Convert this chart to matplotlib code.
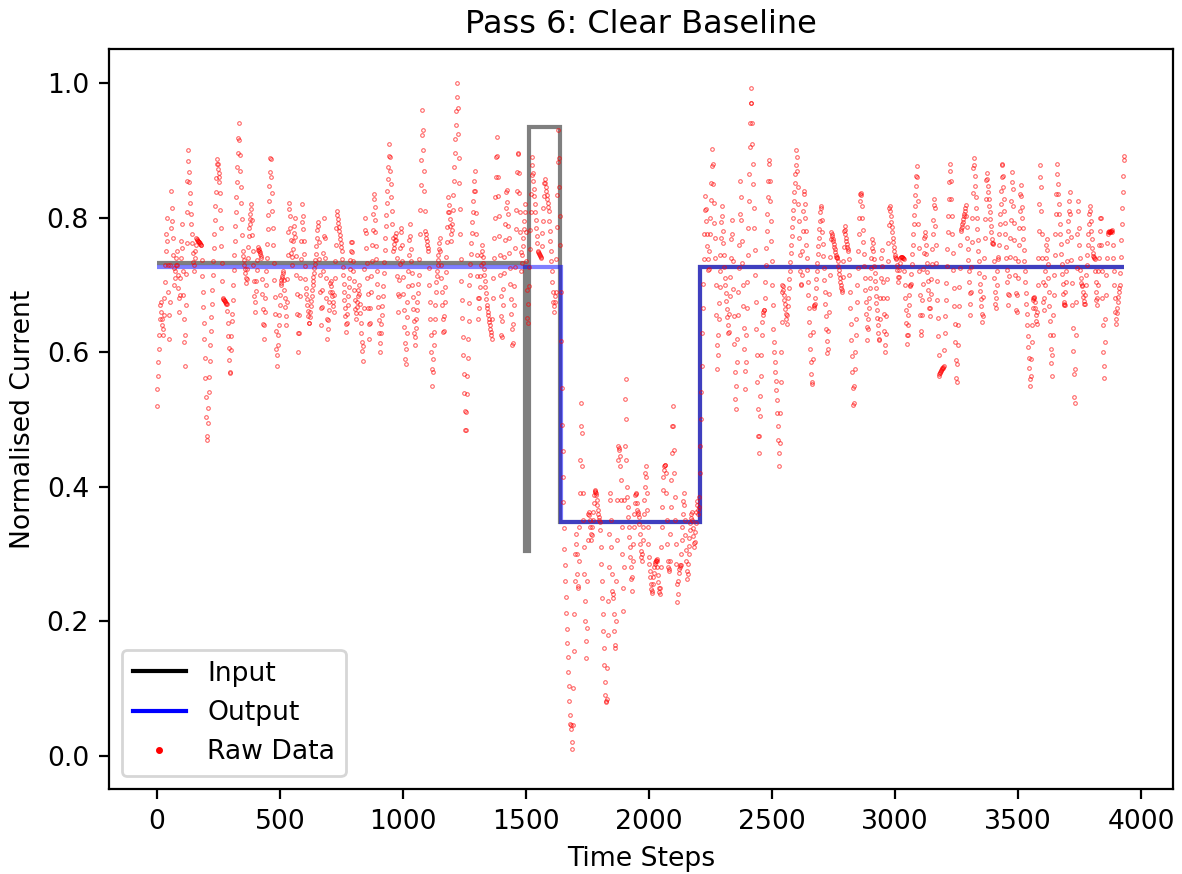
import numpy as np
import matplotlib
matplotlib.use("Agg")
import matplotlib.pyplot as plt
from matplotlib.lines import Line2D

# ---- data -------------------------------------------------------------
# raw samples (x 0.001), read every 2 time steps; each segment has its own start step
raw_step = 2

raw_a_start = 0
raw_a = [
    520, 545, 565, 585, 605, 625, 650, 670, 675, 660, 650, 640, 625, 635, 655, 680, 705, 730, 750, 775,
    800, 765, 730, 690, 655, 620, 675, 730, 785, 840, 815, 795, 770, 745, 725, 700, 710, 720, 730, 740,
    750, 730, 715, 695, 680, 660, 685, 710, 740, 765,
    790, 755, 720, 685, 650, 615, 580, 625, 670, 716, 762, 808, 855, 900, 884, 868, 853, 837, 821, 806,
    790, 776, 762, 748, 734, 720, 730, 740, 750, 760, 770, 768, 766, 765, 765, 764, 763, 762, 761, 760,
    760, 737, 713, 690, 667, 643, 620, 591, 562, 533,
    504, 475, 470, 494, 517, 540, 563, 587, 610, 631, 652, 672, 693, 714, 735, 755, 776, 797, 817, 838,
    859, 879, 887, 880, 873, 867, 860, 853, 837, 811, 785, 758, 732, 706, 680, 679, 678, 677, 676, 674,
    673, 672, 671, 661, 643, 624, 606, 588, 569, 571,
    603, 624, 646, 657, 678, 700, 722, 744, 765, 787, 809, 831, 853, 875, 896, 918, 940, 916, 893, 869,
    845, 821, 798, 774, 750, 743, 737, 730, 723, 717, 710, 703, 708, 724, 740, 756, 772, 784, 791, 798,
    805, 813, 820, 797, 774, 751, 729, 706, 683, 660,
    675, 691, 706, 722, 737, 752, 757, 754, 751, 749, 746, 743, 740, 709, 687, 664, 642, 620, 640, 660,
    680, 700, 720, 740, 761, 783, 804, 825, 847, 868, 889, 887, 861, 836, 810, 784, 759, 733, 707, 682,
    656, 631, 605, 580, 595, 610, 625, 640, 655, 670,
    685, 700, 703, 707, 710, 713, 717, 720, 707, 693, 680, 667, 653, 640, 675, 709, 744, 778, 813, 821,
    803, 785, 766, 748, 730, 742, 753, 765, 777, 788, 800, 771, 743, 714, 686, 657, 629, 600, 628, 655,
    683, 710, 738, 765, 793, 820, 802, 783, 765, 746,
    728, 709, 696, 687, 679, 670, 661, 653, 644, 644, 652, 660, 668, 676, 684, 692, 700, 706, 712, 718,
    725, 731, 737, 746, 758, 770, 782, 794, 788, 763, 738, 714, 689, 665, 640, 667, 693, 720, 747, 773,
    800, 770, 740, 710, 680, 650, 620, 634, 648, 662,
    675, 689, 703, 706, 698, 690, 683, 675, 668, 660, 685, 710, 735, 760, 785, 810, 804, 798, 792, 786,
    780, 774, 768, 762, 756, 750, 738, 726, 714, 702, 690, 678, 666, 654, 642, 630, 643, 657, 670, 683,
    697, 710, 723, 737, 750, 763, 763, 749, 735, 721,
    706, 692, 678, 664, 650, 658, 667, 675, 683, 692, 700, 686, 672, 658, 644, 629, 615, 601, 587, 609,
    666, 724, 781, 799, 777, 755, 732, 710, 687, 665, 642, 620, 643, 666, 690, 713, 736, 759, 782, 805,
    828, 835, 816, 797, 778, 758, 739, 720, 701, 682,
    667, 648, 629, 600, 614, 628, 642, 655, 669, 683, 699, 717, 734, 752, 769, 787, 804, 822, 840, 857,
    875, 892, 910, 890, 870, 850, 830, 810, 790, 770, 750, 755, 761, 766, 772, 777, 767, 740, 713, 687,
    660, 684, 707, 731, 755, 778, 784, 760, 736, 711,
    687, 663, 638, 614, 590, 582, 605, 628, 652, 675, 698, 721, 744, 767, 790, 772, 754, 736, 718, 700,
    682, 664, 646, 628, 610, 623, 636, 649, 662, 675, 688, 701, 714, 738, 775, 812, 849, 886, 923, 960,
    930, 900, 870, 840, 810, 780, 775, 770, 765, 760,
    755, 750, 725, 700, 675, 650, 625, 600, 575, 550, 570, 590, 610, 630, 650, 670, 690, 704, 713, 721,
    729, 737, 745, 753, 762, 770, 750, 730, 710, 690, 670, 650, 630, 631, 653, 675, 697, 719, 742, 764,
    786, 808, 830, 819, 808, 798, 787, 776, 765, 781,
    791, 812, 833, 854, 875, 896, 917, 937, 958, 979, 1000, 963, 925, 888, 851, 813, 776, 739, 706, 678,
    651, 623, 595, 567, 539, 512, 484, 484, 511, 538, 565, 592, 619, 646, 673, 700, 715, 731, 746, 762,
    777, 793, 808, 824, 839, 855, 870, 839, 807, 776,
    744, 713, 681, 650, 666, 681, 697, 713, 729, 744, 760, 751, 742, 733, 724, 715, 706, 697, 688, 679,
    670, 665, 660, 655, 650, 645, 640, 635, 630, 625, 620, 650, 680, 710, 740, 770, 800, 830, 860, 890,
    920, 891, 861, 832, 803, 773, 744, 714, 684, 654,
    625, 622, 646, 670, 694, 718, 742, 766, 790, 814, 838, 841, 823, 806, 788, 770, 747, 725, 702, 679,
    657, 634, 611, 614, 642, 670, 698, 727, 755, 783, 811, 840, 868, 896, 895, 866, 837, 808, 778, 749,
    720, 733, 745, 758, 770, 783, 795, 808, 820, 778,
]

raw_b_start = 1500
raw_b = [
    736, 693, 651, 644, 671, 698, 726, 753, 781, 808, 835, 863, 890, 878, 867, 855, 843, 832, 820, 808,
    797, 785, 773, 762, 750, 749, 747, 746, 744, 743, 741, 740, 758, 777, 795, 814, 832, 851, 857, 851,
    845, 839, 833, 828, 822, 816, 810, 795, 780, 765,
    750, 735, 720, 705, 690, 675, 660, 668, 675, 683, 690, 738, 786, 834, 882, 930, 888, 845, 803, 760,
    689, 617, 546, 491, 453, 415, 377, 339, 308, 284, 260, 236, 212, 189, 167, 146, 124, 103, 82, 60,
    47, 45, 40, 20, 10, 45, 100, 155, 210, 260,
    300, 315, 330, 300, 270, 252, 250, 290, 340, 390, 440, 490, 525, 480, 430, 390, 350, 310, 270, 230,
    200, 170, 145, 190, 260, 320, 360, 362, 358, 350, 340, 330, 320, 328, 340, 350, 362, 375, 388, 392,
    395, 393, 390, 388, 380, 372, 365, 360, 355, 350,
    348, 335, 310, 285, 260, 235, 210, 185, 160, 135, 110, 90, 82, 80, 85, 130, 180, 230, 280, 330,
    380, 390, 350, 310, 270, 245, 240, 235, 210, 185, 165, 160, 200, 260, 320, 380, 440, 460, 458, 455,
    445, 430, 410, 380, 340, 300, 250, 215, 280, 380,
    460, 530, 560, 500, 440, 400, 385, 370, 355, 340, 325, 310, 295, 280, 262, 245, 265, 290, 315, 340,
    360, 375, 388, 390, 389, 375, 365, 362, 360, 355, 345, 330, 315, 305, 295, 290, 300, 320, 340, 360,
    380, 400, 420, 430, 415, 390, 365, 340, 315, 295,
    285, 275, 265, 255, 248, 242, 245, 255, 265, 272, 280, 285, 288, 290, 291, 292, 290, 280, 268, 258,
    250, 244, 240, 250, 280, 310, 340, 370, 395, 415, 425, 430, 432, 432, 420, 390, 350, 315, 290, 280,
    278, 275, 290, 330, 370, 410, 450, 490, 520, 490,
    455, 420, 385, 350, 315, 285, 255, 228, 240, 260, 272, 278, 281, 283, 284, 300, 320, 340, 360, 378,
    390, 372, 350, 328, 306, 290, 275, 262, 270, 285, 300, 312, 324, 336, 346, 354, 360, 362, 350, 338,
    326, 316, 310, 318, 332, 346, 362, 378, 372, 366,
]

raw_c_start = 2200
raw_c = [
    360, 370, 385, 420, 460, 500, 540, 580, 628, 665, 702, 738, 775, 812, 832, 813, 795, 776, 758, 739,
    722, 724, 750, 775, 800, 826, 851, 877, 902, 879, 850, 821, 792, 770, 740, 700, 655, 610, 575, 595,
    625, 649, 673, 697, 721, 745, 769, 793, 817, 802,
    780, 762, 744, 727, 710, 700, 688, 676, 664, 652, 640, 628, 630, 656, 684, 712, 740, 768, 796, 776,
    735, 694, 653, 612, 571, 530, 515, 550, 585, 620, 655, 690, 725, 760, 805, 855, 830, 797, 765, 733,
    700, 668, 636, 604, 572, 545, 585, 625, 665, 705,
    745, 785, 825, 865, 905, 940, 970, 993, 970, 940, 910, 880, 850, 815, 785, 752, 715, 675, 635, 595,
    555, 515, 475, 450, 475, 505, 535, 565, 595, 625, 645, 655, 660, 662, 662, 680, 705, 730, 755, 780,
    805, 830, 855, 880, 885, 855, 825, 795, 765, 735,
    700, 670, 635, 615, 600, 585, 571, 557, 543, 529, 510, 490, 470, 450, 430, 465, 510, 555, 600, 645,
    690, 700, 698, 692, 685, 678, 671, 664, 657, 650, 642, 655, 668, 681, 695, 708, 721, 734, 747, 760,
    773, 786, 799, 812, 825, 838, 852, 865, 878, 900,
    890, 870, 845, 820, 795, 770, 745, 720, 702, 700, 715, 750, 780, 810, 835, 840, 820, 800, 780, 760,
    740, 722, 705, 685, 665, 645, 625, 605, 585, 568, 555, 552, 590, 630, 665, 668, 670, 671, 680, 695,
    708, 720, 733, 746, 758, 770, 783, 795, 808, 818,
    815, 797, 779, 761, 743, 725, 707, 689, 671, 653, 635, 617, 599, 605, 632, 660, 687, 714, 741, 768,
    778, 775, 772, 768, 765, 761, 757, 753, 749, 745, 742, 741, 740, 735, 728, 722, 716, 710, 705, 700,
    696, 693, 690, 712, 735, 757, 780, 788, 782, 776,
    770, 765, 761, 757, 753, 750, 738, 714, 690, 666, 642, 618, 594, 570, 546, 522, 525, 550, 575, 600,
    625, 650, 675, 700, 725, 750, 775, 800, 825, 835, 836, 834, 818, 800, 782, 764, 746, 728, 710, 692,
    674, 656, 638, 618, 635, 650, 665, 680, 695, 710,
    725, 740, 755, 768, 762, 750, 739, 728, 717, 706, 695, 684, 673, 662, 651, 640, 629, 618, 620, 650,
    680, 710, 740, 752, 728, 704, 680, 656, 632, 610, 600, 627, 654, 681, 708, 735, 762, 789, 815, 818,
    810, 802, 794, 786, 778, 770, 763, 757, 751, 745,
    742, 740, 738, 730, 722, 712, 705, 712, 722, 732, 740, 742, 742, 741, 741, 740, 740, 739, 720, 700,
    681, 662, 643, 625, 612, 625, 640, 655, 670, 685, 698, 700, 702, 716, 731, 746, 760, 775, 790, 804,
    818, 833, 847, 862, 876, 860, 825, 790, 755, 720,
    685, 655, 625, 632, 655, 678, 701, 724, 747, 770, 778, 772, 759, 746, 732, 719, 706, 693, 679, 666,
    653, 665, 687, 709, 731, 753, 775, 797, 819, 828, 815, 788, 760, 733, 706, 678, 651, 624, 596, 565,
    567, 569, 570, 572, 573, 575, 576, 577, 578, 580,
    603, 628, 653, 678, 703, 728, 753, 778, 803, 828, 853, 870, 880, 855, 828, 802, 775, 748, 722, 695,
    669, 642, 615, 589, 562, 555, 583, 611, 640, 668, 697, 725, 760, 780, 783, 786, 790, 794, 798, 802,
    806, 810, 815, 819, 803, 786, 770, 753, 737, 720,
    704, 688, 671, 655, 690, 727, 764, 800, 837, 874, 888, 878, 862, 847, 831, 815, 799, 783, 767, 751,
    735, 718, 702, 691, 679, 668, 657, 645, 654, 682, 711, 740, 769, 798, 827, 856, 866, 857, 847, 838,
    828, 818, 808, 798, 788, 778, 768, 762, 762, 761,
    735, 710, 690, 672, 665, 680, 700, 720, 738, 742, 760, 775, 790, 805, 820, 840, 860, 878, 880, 862,
    845, 827, 810, 792, 775, 757, 740, 722, 705, 687, 670, 685, 713, 741, 769, 797, 825, 853, 868, 843,
    818, 792, 766, 740, 714, 688, 662, 660, 685, 710,
    735, 760, 785, 810, 835, 848, 832, 816, 800, 784, 768, 752, 736, 720, 704, 688, 672, 656, 640, 624,
    608, 592, 576, 560, 550, 565, 590, 615, 640, 665, 678, 680, 681, 682, 675, 665, 655, 647, 642, 660,
    700, 740, 780, 820, 860, 878, 845, 810, 775, 740,
    705, 675, 662, 680, 700, 720, 740, 760, 768, 752, 731, 710, 689, 668, 647, 626, 605, 584, 565, 595,
    625, 655, 685, 715, 745, 775, 805, 835, 880, 865, 850, 835, 820, 806, 791, 776, 761, 746, 731, 716,
    701, 686, 675, 672, 670, 670, 690, 705, 720, 735,
    765, 780, 795, 810, 825, 838, 805, 771, 737, 703, 670, 636, 602, 568, 534, 525, 575, 625, 675, 725,
    775, 825, 810, 785, 760, 740, 722, 710, 703, 700, 699, 690, 682, 676, 671, 672, 685, 700, 715, 730,
    745, 760, 775, 790, 805, 817, 810, 795, 780, 768,
    755, 748, 743, 741, 740, 739, 720, 705, 690, 678, 670, 680, 700, 720, 740, 760, 780, 800, 800, 760,
    720, 680, 640, 600, 562, 580, 615, 650, 685, 715, 740, 762, 775, 779, 780, 779, 779, 779, 780, 780,
    781, 778, 760, 740, 720, 700, 680, 660, 642, 650,
    658, 666, 674, 682, 690, 696, 700, 718, 742, 766, 790, 814, 838, 862, 886, 892,
]

# step-wise levels (Input = black, Output = blue)
input_edges = [0, 1496, 1512, 1638, 2207, 3930]
input_levels = [0.732, 0.304, 0.934, 0.348, 0.726]
output_edges = [0, 1640, 2207, 3930]
output_levels = [0.726, 0.348, 0.726]

title = "Pass 6: Clear Baseline"
x_label = "Time Steps"
y_label = "Normalised Current"
legend_labels = ["Input", "Output", "Raw Data"]

# ---- plot ---------------------------------------------------------------
plt.rcParams["font.size"] = 9.6

xs, ys = [], []
for start, seg in ((raw_a_start, raw_a), (raw_b_start, raw_b), (raw_c_start, raw_c)):
    xs.append(start + raw_step * np.arange(len(seg)))
    ys.append(np.array(seg) / 1000.0)
raw_x = np.concatenate(xs)
raw_y = np.concatenate(ys)

fig = plt.figure(figsize=(1182 / 200, 874 / 200), dpi=200)
ax = fig.add_axes([0.0918, 0.0969, 0.9006, 0.8465])

ax.stairs(input_levels, input_edges, baseline=None, color="black",
          alpha=0.5, linewidth=1.5)
ax.stairs(output_levels, output_edges, baseline=None, color="blue",
          alpha=0.5, linewidth=1.5)
ax.plot(raw_x, raw_y, linestyle="none", marker="o", markersize=1.3,
        markerfacecolor="none", markeredgecolor="red",
        markeredgewidth=0.4, alpha=0.6)

ax.set_xlim(-197, 4129)
ax.set_ylim(-0.05, 1.05)
ax.set_xticks([0, 500, 1000, 1500, 2000, 2500, 3000, 3500, 4000])
ax.set_yticks([0.0, 0.2, 0.4, 0.6, 0.8, 1.0])

ax.set_title(title, fontsize=11.5)
ax.set_xlabel(x_label)
ax.set_ylabel(y_label)

handles = [
    Line2D([], [], color="black", linewidth=1.5),
    Line2D([], [], color="blue", linewidth=1.5),
    Line2D([], [], color="red", marker=".", linestyle="none", markersize=3),
]
ax.legend(handles, legend_labels, loc="lower left")

fig.savefig("out.png", dpi=200)
